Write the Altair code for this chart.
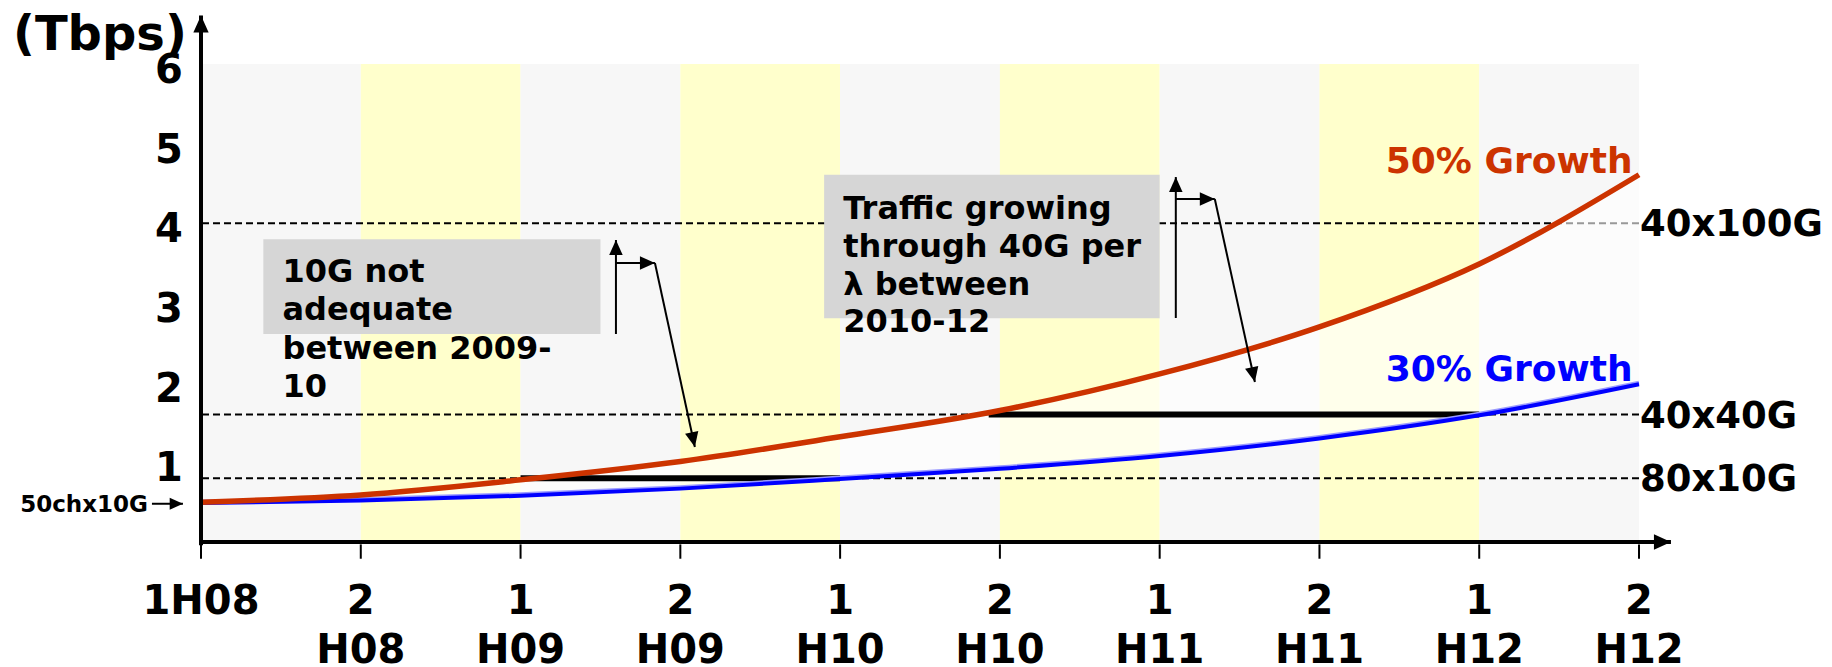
import math

import altair as alt
import pandas as pd

# Half-year periods on the x axis (0 = 1H08 ... 9 = 2H12)
periods = list(range(10))
period_top = ["1H08", "2", "1", "2", "1", "2", "1", "2", "1", "2"]
period_bottom = ["", "H08", "H09", "H09", "H10", "H10", "H11", "H11", "H12", "H12"]

# Projected traffic in Tbps
traffic_50 = [0.50, 0.59, 0.78, 1.01, 1.32, 1.65, 2.11, 2.70, 3.49, 4.61]
traffic_30 = [0.49, 0.52, 0.58, 0.67, 0.79, 0.92, 1.08, 1.30, 1.59, 1.98]

y_ticks = [1, 2, 3, 4, 5, 6]

# Capacity levels (Tbps)
capacity_names = ["80x10G", "40x40G", "40x100G"]
capacity_tbps = [0.8, 1.6, 4.0]
start_capacity = 0.48  # 50ch x 10G

# Periods during which traffic runs between two capacity levels
plateau_start = [2.0, 4.93]
plateau_end = [4.0, 8.0]
plateau_level = [0.8, 1.6]

notes = [
    ["10G not", "adequate", "between 2009-", "10"],
    ["Traffic growing", "through 40G per", "λ between", "2010-12"],
]

# ---- geometry of the plot area -------------------------------------------
X_MAX, Y_MAX = 9, 6
W, H = 1438, 478
KX, KY = W / X_MAX, H / Y_MAX
FONT = "DejaVu Sans"
ARROW = "M0,0L-0.45,1L0.45,1Z"  # arrowhead, tip at the anchor, pointing up

xs = alt.Scale(domain=[0, X_MAX], nice=False, zero=False)
ys = alt.Scale(domain=[0, Y_MAX], nice=False, zero=False)


def X(f):
    return alt.X(f"{f}:Q", scale=xs, axis=None)


def Y(f):
    return alt.Y(f"{f}:Q", scale=ys, axis=None)


def heading(fx, fy, tx, ty):
    """Clockwise rotation (deg) of an up-pointing head for a segment from f to t."""
    dx = (tx - fx) * KX
    dy = -(ty - fy) * KY
    return math.degrees(math.atan2(dx, -dy)) % 360


# ---- tables ---------------------------------------------------------------
bands = pd.DataFrame({
    "x0": periods[:-1],
    "x1": periods[1:],
    "y0": 0,
    "y1": Y_MAX,
    "fill": ["#f7f7f7" if p % 2 == 0 else "#ffffcc" for p in periods[:-1]],
})

curves = pd.DataFrame({"t": periods, "g50": traffic_50, "g30": traffic_30})
caps = pd.DataFrame({"level": capacity_tbps, "name": capacity_names, "x": X_MAX})
plateaus = pd.DataFrame({"s": plateau_start, "e": plateau_end, "level": plateau_level})

boxes = pd.DataFrame({
    "x0": [0.39, 3.90], "x1": [2.50, 6.00],
    "y0": [2.61, 2.81], "y1": [3.80, 4.61],
})

note_x = [0.51, 4.02]
note_y = [[3.41, 2.94, 2.45, 1.97], [4.21, 3.73, 3.25, 2.79]]
note_rows = []
for i, lines in enumerate(notes):
    for j, line in enumerate(lines):
        note_rows.append({"x": note_x[i], "y": note_y[i][j], "text": line})
note_df = pd.DataFrame(note_rows)

# Elbow arrows from each note box down to the curves
segments = [
    (2.597, 2.611, 2.597, 3.791),
    (2.597, 3.502, 2.841, 3.502),
    (2.841, 3.502, 3.091, 1.192),
    (6.101, 2.812, 6.101, 4.581),
    (6.101, 4.305, 6.345, 4.305),
    (6.345, 4.305, 6.596, 2.008),
    (-0.307, start_capacity, -0.113, start_capacity),
]
seg_df = pd.DataFrame(segments, columns=["x", "y", "x2", "y2"])
heads = pd.DataFrame({
    "x": seg_df["x2"],
    "y": seg_df["y2"],
    "angle": [heading(*s) for s in segments],
    "size": [900, 900, 900, 900, 900, 900, 700],
})

# Axes with arrow ends
axis_lines = pd.DataFrame({
    "x": [0, -0.01], "y": [-0.04, 0], "x2": [0, 9.2], "y2": [6.61, 0],
})
axis_heads = pd.DataFrame({
    "x": [0, 9.2], "y": [6.61, 0],
    "angle": [heading(0, 0, 0, 1), heading(0, 0, 1, 0)],
    "size": [1156, 1156],
})
ticks = pd.DataFrame({"t": periods, "y0": -0.03, "y1": -0.21})

xlab = pd.DataFrame({
    "t": periods * 2,
    "y": [-0.715] * 10 + [-1.33] * 10,
    "text": period_top + period_bottom,
})
ylab = pd.DataFrame({"x": -0.113, "y": y_ticks, "text": [str(v) for v in y_ticks]})

# ---- layers ---------------------------------------------------------------
band_layer = alt.Chart(bands).mark_rect(strokeWidth=0).encode(
    x=X("x0"), x2=alt.X2("x1"), y=Y("y0"), y2=alt.Y2("y1"),
    color=alt.Color("fill:N", scale=None),
)

cap_lines = alt.Chart(caps).mark_rule(
    color="black", strokeWidth=2, strokeDash=[7, 4]
).encode(y=Y("level"))

gap_fill = alt.Chart(curves).mark_area(
    interpolate="monotone", color="white", opacity=0.6
).encode(x=X("t"), y=Y("g50"), y2=alt.Y2("g30"))

plateau_layer = alt.Chart(plateaus).mark_rule(color="black", strokeWidth=6).encode(
    x=X("s"), x2=alt.X2("e"), y=Y("level")
)

halo30 = alt.Chart(curves).mark_line(
    interpolate="monotone", color="#9a9aff", strokeWidth=4, yOffset=-1.5
).encode(x=X("t"), y=Y("g30"))
line30 = alt.Chart(curves).mark_line(
    interpolate="monotone", color="#0000ff", strokeWidth=4
).encode(x=X("t"), y=Y("g30"))
line50 = alt.Chart(curves).mark_line(
    interpolate="monotone", color="#cc3300", strokeWidth=5.5
).encode(x=X("t"), y=Y("g50"))

box_layer = alt.Chart(boxes).mark_rect(color="#d6d6d6", strokeWidth=0).encode(
    x=X("x0"), x2=alt.X2("x1"), y=Y("y0"), y2=alt.Y2("y1")
)
note_layer = alt.Chart(note_df).mark_text(
    font=FONT, fontWeight="bold", fontSize=32, align="left", baseline="middle",
    dy=2, color="black",
).encode(x=X("x"), y=Y("y"), text="text:N")

seg_layer = alt.Chart(seg_df).mark_rule(color="black", strokeWidth=2).encode(
    x=X("x"), y=Y("y"), x2=alt.X2("x2"), y2=alt.Y2("y2")
)
head_layer = alt.Chart(heads).mark_point(
    shape=ARROW, filled=True, color="black", opacity=1, strokeWidth=0
).encode(
    x=X("x"), y=Y("y"),
    angle=alt.Angle("angle:Q", scale=None),
    size=alt.Size("size:Q", scale=None),
)

axis_layer = alt.Chart(axis_lines).mark_rule(color="black", strokeWidth=4).encode(
    x=X("x"), y=Y("y"), x2=alt.X2("x2"), y2=alt.Y2("y2")
)
axis_head_layer = alt.Chart(axis_heads).mark_point(
    shape=ARROW, filled=True, color="black", opacity=1, strokeWidth=0
).encode(
    x=X("x"), y=Y("y"),
    angle=alt.Angle("angle:Q", scale=None),
    size=alt.Size("size:Q", scale=None),
)
tick_layer = alt.Chart(ticks).mark_rule(color="black", strokeWidth=2).encode(
    x=X("t"), y=Y("y0"), y2=alt.Y2("y1")
)

xlab_layer = alt.Chart(xlab).mark_text(
    font=FONT, fontWeight="bold", fontSize=40, align="center", baseline="middle",
    dy=3, color="black",
).encode(x=X("t"), y=Y("y"), text="text:N")
ylab_layer = alt.Chart(ylab).mark_text(
    font=FONT, fontWeight="bold", fontSize=40, align="right", baseline="middle",
    dy=7, color="black",
).encode(x=X("x"), y=Y("y"), text="text:N")

cap_labels = alt.Chart(caps).mark_text(
    font=FONT, fontWeight="bold", fontSize=37, align="left", baseline="middle",
    dx=1, dy=2, color="black",
).encode(x=X("x"), y=Y("level"), text="name:N")

start_label = alt.Chart(pd.DataFrame({"x": [-0.332], "y": [start_capacity], "text": ["50chx10G"]})).mark_text(
    font=FONT, fontWeight="bold", fontSize=23, align="right", baseline="middle", dy=1,
    color="black",
).encode(x=X("x"), y=Y("y"), text="text:N")

growth_labels = alt.Chart(pd.DataFrame({
    "x": [8.96, 8.96], "y": [4.795, 2.184],
    "text": ["50% Growth", "30% Growth"], "c": ["#cc3300", "#0000ff"],
})).mark_text(
    font=FONT, fontWeight="bold", fontSize=36, align="right", baseline="middle", dy=2,
).encode(x=X("x"), y=Y("y"), text="text:N", color=alt.Color("c:N", scale=None))

unit_label = alt.Chart(pd.DataFrame({"x": [-1.177], "y": [6.389], "text": ["(Tbps)"]})).mark_text(
    font=FONT, fontWeight="bold", fontSize=48, align="left", baseline="middle", dy=3,
    color="black",
).encode(x=X("x"), y=Y("y"), text="text:N")

chart = alt.layer(
    band_layer, cap_lines, gap_fill, plateau_layer, halo30, line30, line50,
    box_layer, note_layer, seg_layer, head_layer,
    axis_layer, axis_head_layer, tick_layer, xlab_layer, ylab_layer,
    cap_labels, start_label, growth_labels, unit_label,
).properties(
    width=W,
    height=H,
    autosize=alt.AutoSizeParams(type="none"),
    padding={"left": 201, "top": 64, "right": 193, "bottom": 125},
    background="white",
).configure_view(stroke=None)

chart.save("out.html", embed_options={"renderer": "svg", "actions": False})
